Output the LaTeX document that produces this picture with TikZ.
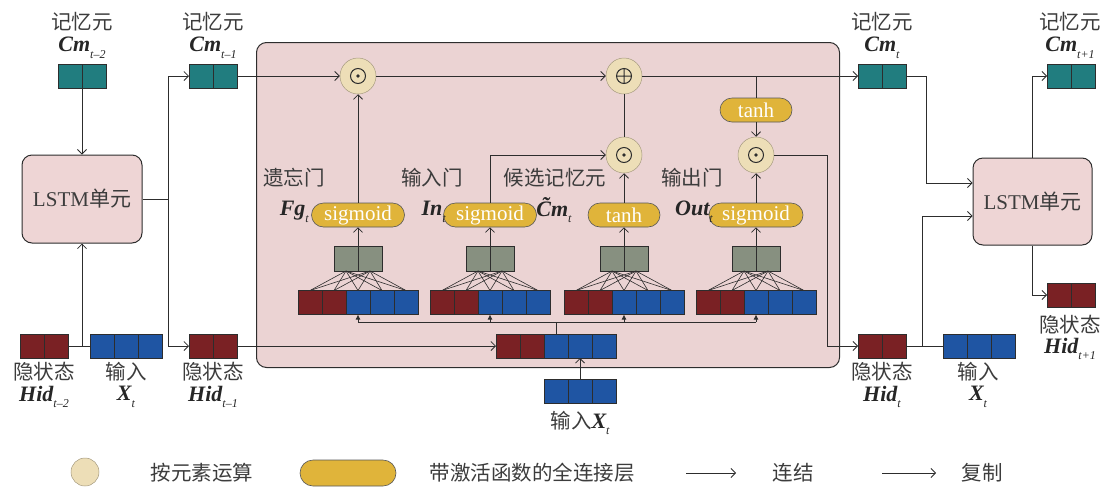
\documentclass[tikz,border=0pt]{standalone}
\usepackage{fontspec}
\setmainfont{Liberation Serif}
\newfontfamily\cjk{Noto Sans CJK SC}
\usetikzlibrary{arrows.meta,calc}
\definecolor{teal0}{RGB}{33,125,127}
\definecolor{red0}{RGB}{122,33,36}
\definecolor{blue0}{RGB}{31,85,163}
\definecolor{gray0}{RGB}{135,144,128}
\definecolor{pink0}{RGB}{235,211,211}
\definecolor{pink1}{RGB}{238,213,213}
\definecolor{cream}{RGB}{237,222,183}
\definecolor{gold}{RGB}{224,180,58}
\definecolor{ln}{RGB}{45,45,45}
\definecolor{txt}{RGB}{60,60,60}
\newcommand\sbs[1]{\raisebox{-0.3em}{\fontsize{12}{12}\selectfont\mdseries\itshape #1}}
\newcommand\cells[5]{\foreach[count=\i] \c in {#4}{\node[cell,fill=\c,minimum height=#5] (#1\i) at ({#2+24*\i-12},#3) {};}}
\tikzset{
  cell/.style={draw=ln, line width=0.7pt, minimum width=24pt, inner sep=0pt, outer sep=0pt},
  cn/.style={font=\cjk\fontsize{20.5}{22}\selectfont, text=txt, inner sep=0pt},
  bi/.style={font=\fontsize{22}{24}\selectfont\bfseries\itshape, text=black!85, inner sep=0pt},
  pill/.style={draw=ln!80, line width=0.6pt, fill=gold, rounded corners=12pt, minimum height=24pt, text=white, font=\fontsize{21}{22}\selectfont, inner sep=0pt},
  op/.style={circle, fill=cream, draw=cream!70!black, line width=0.5pt, minimum size=36pt, inner sep=0pt},
  con/.style={draw=ln, line width=0.8pt},
  arr/.style={con, -{Straight Barb[length=4.5pt,width=9pt]}},
  farr/.style={con, -{Latex[length=5pt,width=5pt]}},
  fc/.style={draw=ln, line width=0.6pt},
  lstm/.style={draw=ln, line width=1pt, fill=pink1, rounded corners=10pt, inner sep=0pt, font=\fontsize{21}{22}\selectfont, text=txt}
}
\begin{document}
\begin{tikzpicture}[x=1pt,y=-1pt]
\useasboundingbox (0,0) rectangle (1107,488);
% panel
\node[draw=ln, line width=1pt, fill=pink0, rounded corners=10pt, minimum width=583pt, minimum height=325pt, inner sep=0pt, anchor=north west] (panel) at (256,42) {};
% LSTM boxes
\node[lstm, minimum width=120pt, minimum height=88pt] (lstmL) at (82,199) {LSTM{\cjk 单元}};
\node[lstm, minimum width=119pt, minimum height=87pt] (lstmR) at (1032.5,201.5) {LSTM{\cjk 单元}};
% state boxes
\cells{ca}{58}{76}{teal0,teal0}{24pt}
\cells{cb}{189}{76}{teal0,teal0}{24pt}
\cells{cc}{858}{76}{teal0,teal0}{24pt}
\cells{cd}{1047}{76}{teal0,teal0}{24pt}
\cells{ha}{20}{346}{red0,red0}{24pt}
\cells{xa}{90}{346}{blue0,blue0,blue0}{24pt}
\cells{hb}{189}{346}{red0,red0}{24pt}
\cells{hc}{858}{346}{red0,red0}{24pt}
\cells{xc}{943}{346}{blue0,blue0,blue0}{24pt}
\cells{hd}{1047}{295}{red0,red0}{24pt}
\cells{cat}{496}{346}{red0,red0,blue0,blue0,blue0}{24pt}
\cells{xin}{544}{391}{blue0,blue0,blue0}{24pt}
% gate vectors
\cells{vf}{298}{302.5}{red0,red0,blue0,blue0,blue0}{24pt}
\cells{vi}{430}{302.5}{red0,red0,blue0,blue0,blue0}{24pt}
\cells{vc}{564}{302.5}{red0,red0,blue0,blue0,blue0}{24pt}
\cells{vo}{696}{302.5}{red0,red0,blue0,blue0,blue0}{24pt}
\cells{gf}{334}{258.5}{gray0,gray0}{25pt}
\cells{gi}{466}{258.5}{gray0,gray0}{25pt}
\cells{gc}{600}{258.5}{gray0,gray0}{25pt}
\cells{go}{732}{258.5}{gray0,gray0}{25pt}
% pills
\node[pill, minimum width=93pt] (pf) at (358,215) {sigmoid};
\node[pill, minimum width=93pt] (pi) at (490,215) {sigmoid};
\node[pill, minimum width=72pt] (pc) at (624,215) {tanh};
\node[pill, minimum width=94pt] (po) at (756,215) {sigmoid};
\node[pill, minimum width=72pt] (pt) at (756,110) {tanh};
% operators
\node[op] (of) at (358,76) {};
\node[op] (oa) at (624,76) {};
\node[op] (oi) at (624,155) {};
\node[op] (oo) at (756,155) {};
\foreach \n in {of,oi,oo}{\draw[ln, line width=1pt] (\n) circle (7.5pt); \fill[ln] (\n) circle (1.8pt);}
\draw[ln, line width=1pt] (oa) circle (7.5pt) ($(oa)+(-7.5,0)$) -- ($(oa)+(7.5,0)$) ($(oa)+(0,-7.5)$) -- ($(oa)+(0,7.5)$);
% FC connections
\foreach \g/\v in {gf/vf,gi/vi,gc/vc,go/vo}{
  \foreach \j in {1,...,5}{\draw[fc] (\g1.south) -- (\v\j.north); \draw[fc] (\g2.south) -- (\v\j.north);}
}
\draw[arr] (gf1.north east) -- (pf.south);
\draw[arr] (gi1.north east) -- (pi.south);
\draw[arr] (gc1.north east) -- (pc.south);
\draw[arr] (go1.north east) -- (po.south);
% bus
\coordinate (bus) at (556,322);
\draw[con] (vf3.south |- bus) -- (vo3.south |- bus);
\draw[con] (cat3.north) -- (cat3.north |- bus);
\foreach \v in {vf3,vi3,vc3,vo3}{\draw[farr] (\v.south |- bus) -- (\v.south);}
\draw[arr] (hb2.east) -- (cat1.west);
\draw[arr] (xin2.north) -- (cat4.south);
% gates
\draw[arr] (pf.north) -- (of.south);
\draw[arr] (pc.north) -- (oi.south);
\draw[arr] (pi.north) |- (oi.west);
\draw[arr] (po.north) -- (oo.south);
\draw[con] (oi.north) -- (oa.south);
\draw[con] (pt.north |- oa.east) -- (pt.north);
\draw[arr] (pt.south) -- (oo.north);
\draw[arr] (cb2.east) -- (of.west);
\draw[arr] (of.east) -- (oa.west);
\draw[arr] (oa.east) -- (cc1.west);
\coordinate (jo) at (827,155);
\draw[arr] (oo.east) -- (jo) |- (hc1.west);
% left
\draw[arr] (ca1.south east) -- (lstmL.north);
\draw[con] (ha2.east) -- (xa1.west);
\draw[arr] (lstmL.south |- ha2.east) -- (lstmL.south);
\draw[con] (lstmL.east) -- ++(26,0) coordinate (jl);
\draw[arr] (jl) |- (cb1.west);
\draw[arr] (jl) |- (hb1.west);
% right
\draw[arr] (cc2.east) -- ++(20,0) |- ($(lstmR.west)+(0,-18.5)$);
\draw[con] (hc2.east) -- (xc1.west);
\draw[arr] ($(hc2.east)+(16,0)$) |- ($(lstmR.west)+(0,14.5)$);
\draw[arr] (lstmR.north) |- (cd1.west);
\draw[arr] (lstmR.south) |- (hd1.west);
% labels
\node[cn] (l1) at (82,22) {记忆元};
\node[bi] (l2) at (82,48) {Cm\sbs{t–2}};
\node[cn] (l3) at (213,22) {记忆元};
\node[bi] (l4) at (213,48) {Cm\sbs{t–1}};
\node[cn] (l5) at (882,22) {记忆元};
\node[bi] (l6) at (882,48) {Cm\sbs{t}};
\node[cn] (l7) at (1070,22) {记忆元};
\node[bi] (l8) at (1070,48) {Cm\sbs{t+1}};
\node[cn] (l9) at (44,372) {隐状态};
\node[bi] (l10) at (44,397) {Hid\sbs{t–2}};
\node[cn] (l11) at (126,372) {输入};
\node[bi] (l12) at (126,397) {X\sbs{t}};
\node[cn] (l13) at (213,372) {隐状态};
\node[bi] (l14) at (213,397) {Hid\sbs{t–1}};
\node[cn] (l15) at (882,372) {隐状态};
\node[bi] (l16) at (882,397) {Hid\sbs{t}};
\node[cn] (l17) at (978,372) {输入};
\node[bi] (l18) at (978,397) {X\sbs{t}};
\node[cn] (l19) at (1070,325) {隐状态};
\node[bi] (l20) at (1070,349) {Hid\sbs{t+1}};
\node[bi] (l21) at (580,423) {{\cjk\mdseries\upshape\fontsize{20.5}{22}\selectfont\color{txt}输入}X\sbs{t}};
\node[cn] (g1) at (294,178) {遗忘门};
\node[bi, anchor=east] (g2) at (309,212) {Fg\sbs{t}};
\node[cn] (g3) at (432,178) {输入门};
\node[bi, anchor=east] (g4) at (446,212) {In\sbs{t}};
\node[cn] (g5) at (555,178) {候选记忆元};
\node[bi] (g6) at (554,210) {\~{C}m\sbs{t}};
\node[cn] (g7) at (692,178) {输出门};
\node[bi, anchor=east] (g8) at (713,212) {Out\sbs{t}};
% legend
\node[op, minimum size=28pt] (lg1) at (85,472) {};
\node[cn] (lg1t) at (202,473) {按元素运算};
\node[pill, minimum width=96pt, minimum height=26pt, rounded corners=13pt] (lg2) at (348,473) {};
\node[cn] (lg2t) at (532,473) {带激活函数的全连接层};
\coordinate (la1) at (686,473); \coordinate (la1e) at (736,473);
\draw[arr] (la1) -- (la1e);
\node[cn] (lg3t) at (793,473) {连结};
\coordinate (la2) at (882,473); \coordinate (la2e) at (936,473);
\draw[arr] (la2) -- (la2e);
\node[cn] (lg4t) at (982,473) {复制};
\end{tikzpicture}
\end{document}
